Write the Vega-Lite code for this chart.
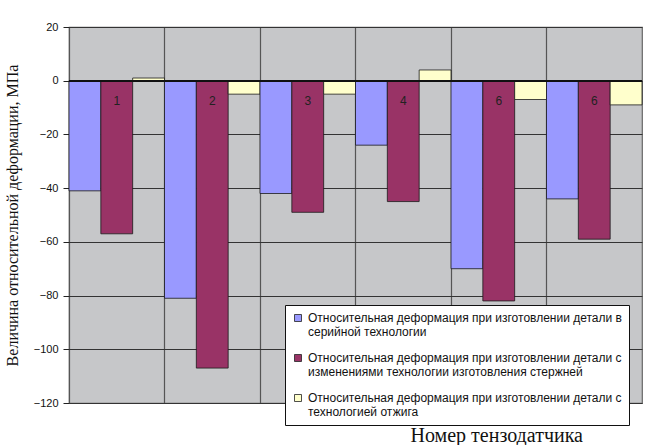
{
  "$schema": "https://vega.github.io/schema/vega-lite/v6.json",
  "width": 573,
  "height": 376,
  "autosize": {"type": "none"},
  "padding": {"left": 69, "top": 27, "right": 5, "bottom": 42},
  "background": "white",
  "config": {
    "view": {"stroke": "#666666", "strokeWidth": 1.2, "fill": "#C6C7C9"},
    "font": "Liberation Sans"
  },
  "data": {
    "values": [
      {"g": 1, "lbl": "1", "s": "A", "v": -41},
      {"g": 1, "lbl": "1", "s": "B", "v": -57},
      {"g": 1, "lbl": "1", "s": "C", "v": 1},
      {"g": 2, "lbl": "2", "s": "A", "v": -81},
      {"g": 2, "lbl": "2", "s": "B", "v": -107},
      {"g": 2, "lbl": "2", "s": "C", "v": -5},
      {"g": 3, "lbl": "3", "s": "A", "v": -42},
      {"g": 3, "lbl": "3", "s": "B", "v": -49},
      {"g": 3, "lbl": "3", "s": "C", "v": -5},
      {"g": 4, "lbl": "4", "s": "A", "v": -24},
      {"g": 4, "lbl": "4", "s": "B", "v": -45},
      {"g": 4, "lbl": "4", "s": "C", "v": 4},
      {"g": 5, "lbl": "6", "s": "A", "v": -70},
      {"g": 5, "lbl": "6", "s": "B", "v": -82},
      {"g": 5, "lbl": "6", "s": "C", "v": -7},
      {"g": 6, "lbl": "6", "s": "A", "v": -44},
      {"g": 6, "lbl": "6", "s": "B", "v": -59},
      {"g": 6, "lbl": "6", "s": "C", "v": -9}
    ]
  },
  "encoding": {
    "x": {
      "field": "g",
      "type": "ordinal",
      "scale": {"paddingInner": 0, "paddingOuter": 0},
      "axis": {
        "labels": false,
        "ticks": false,
        "domain": false,
        "grid": true,
        "bandPosition": 0,
        "gridColor": "#555555",
        "gridWidth": 1.2,
        "title": "Номер тензодатчика",
        "titleFont": "Liberation Serif",
        "titleFontSize": 20,
        "titleFontWeight": "normal",
        "titleColor": "#111111",
        "titleAlign": "left",
        "titleBaseline": "middle",
        "titleX": 341,
        "titleY": 32
      }
    },
    "xOffset": {"field": "s", "type": "nominal", "sort": ["A", "B", "C"], "scale": {"paddingInner": 0, "paddingOuter": 0}}
  },
  "layer": [
    {
      "mark": {"type": "bar", "stroke": "#1a1a1a", "strokeWidth": 0.8},
      "encoding": {
        "y": {
          "field": "v",
          "type": "quantitative",
          "scale": {"domain": [-120, 20], "nice": false, "zero": true},
          "axis": {
            "values": [20, 0, -20, -40, -60, -80, -100, -120],
            "grid": true,
            "gridColor": "#333333",
            "gridWidth": 1,
            "domain": false,
            "tickColor": "#222222",
            "tickSize": 6,
            "labelFont": "Liberation Sans",
            "labelFontSize": 11,
            "labelColor": "#111111",
            "labelPadding": 5,
            "title": "Величина относительной деформации, МПа",
            "titleFont": "Liberation Serif",
            "titleFontSize": 16,
            "titleFontWeight": "normal",
            "titleColor": "#111111",
            "titleAngle": 270,
            "titleBaseline": "middle",
            "titleAlign": "center",
            "titleX": -57,
            "titleY": 188
          }
        },
        "color": {
          "field": "s",
          "type": "nominal",
          "sort": ["A", "B", "C"],
          "scale": {"domain": ["A", "B", "C"], "range": ["#9999FF", "#993366", "#FFFFCC"]},
          "legend": {
            "title": null,
            "orient": "none",
            "legendX": 216,
            "legendY": 278,
            "padding": 7,
            "fillColor": "white",
            "strokeColor": "#111111",
            "symbolType": "square",
            "symbolSize": 49,
            "symbolStrokeColor": "#222222",
            "symbolStrokeWidth": 0.8,
            "symbolOpacity": 1,
            "labelFont": "Liberation Sans",
            "labelFontSize": 12,
            "labelColor": "#111111",
            "labelLimit": 500,
            "labelOffset": 4,
            "rowPadding": 14,
            "labelBaseline": "middle",
            "labelExpr": "datum.value == 'A' ? ['Относительная деформация при изготовлении детали в', 'серийной технологии'] : datum.value == 'B' ? ['Относительная деформация при изготовлении детали с', 'изменениями технологии изготовления стержней'] : ['Относительная деформация при изготовлении детали с', 'технологией отжига']"
          }
        }
      }
    },
    {
      "transform": [{"filter": "datum.s == 'B'"}],
      "mark": {"type": "text", "font": "Liberation Sans", "fontSize": 12, "color": "#222222", "baseline": "middle"},
      "encoding": {
        "y": {"datum": -7.5, "type": "quantitative"},
        "text": {"field": "lbl"}
      }
    },
    {
      "mark": {"type": "rule", "color": "#111111", "strokeWidth": 1.2},
      "encoding": {"y": {"datum": 0, "type": "quantitative"}, "x": {"value": 0}, "x2": {"value": 573}, "xOffset": null}
    }
  ]
}
